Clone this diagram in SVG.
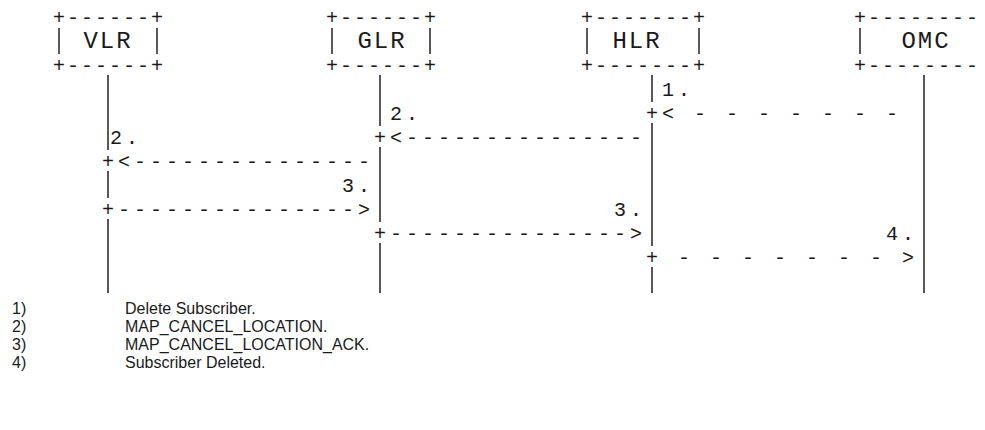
<svg xmlns="http://www.w3.org/2000/svg" width="985" height="430" viewBox="0 0 985 430">
<style>
  text { fill: #1a1a1a; white-space: pre; }
  .m { font-family: "Liberation Mono", "Courier New", monospace; font-size: 20px; letter-spacing: 4px; }
  .b { font-family: "Liberation Mono", "Courier New", monospace; font-size: 20px; letter-spacing: 2px; }
  .lbl { font-family: "Liberation Mono", "Courier New", monospace; font-size: 24px; letter-spacing: 2px; text-anchor: middle; }
  .leg { font-family: "Liberation Sans", Arial, sans-serif; font-size: 16px; }
  .ln { stroke: #000; stroke-width: 1.3; fill: none; }
</style>
<rect width="985" height="430" fill="#fff"/>

<g id="node-vlr">
  <text class="b" x="53" y="24">+------+</text>
  <line class="ln" x1="59" y1="28" x2="59" y2="54"/>
  <line class="ln" x1="157" y1="28" x2="157" y2="54"/>
  <text class="lbl" x="108" y="48">VLR</text>
  <text class="b" x="53" y="72">+------+</text>
</g>
<g id="node-glr">
  <text class="b" x="326" y="24">+------+</text>
  <line class="ln" x1="332" y1="28" x2="332" y2="54"/>
  <line class="ln" x1="430" y1="28" x2="430" y2="54"/>
  <text class="lbl" x="382" y="48">GLR</text>
  <text class="b" x="326" y="72">+------+</text>
</g>
<g id="node-hlr">
  <text class="b" x="581" y="24">+-------+</text>
  <line class="ln" x1="587" y1="28" x2="587" y2="54"/>
  <line class="ln" x1="699" y1="28" x2="699" y2="54"/>
  <text class="lbl" x="637" y="48">HLR</text>
  <text class="b" x="581" y="72">+-------+</text>
</g>
<g id="node-omc">
  <text class="b" x="854" y="24">+--------</text>
  <line class="ln" x1="860" y1="28" x2="860" y2="54"/>
  <text class="lbl" x="926" y="48">OMC</text>
  <text class="b" x="854" y="72">+--------</text>
</g>

<g id="connectors">
  <path class="ln" d="M108 75V150M108 171V198M108 219V293"/>
  <path class="ln" d="M380 75V126M380 147V222M380 243V293"/>
  <path class="ln" d="M652 75V102M652 123V246M652 267V293"/>
  <path class="ln" d="M924 75V293"/>
  <text class="m" x="662" y="96">1.</text>
  <text class="m" x="390" y="120">2.</text>
  <text class="m" x="646" y="120">+&lt; - - - - - - -</text>
  <text class="m" x="110" y="144">2.</text>
  <text class="m" x="374" y="144">+&lt;---------------</text>
  <text class="m" x="102" y="168">+&lt;---------------</text>
  <text class="m" x="342" y="192">3.</text>
  <text class="m" x="102" y="216">+---------------&gt;</text>
  <text class="m" x="614" y="216">3.</text>
  <text class="m" x="374" y="240">+---------------&gt;</text>
  <text class="m" x="886" y="240">4.</text>
  <text class="m" x="646" y="264">+ - - - - - - - &gt;</text>
</g>

<g id="legend">
  <text class="leg" x="12" y="314">1)</text>
  <text class="leg" x="125" y="314">Delete Subscriber.</text>
  <text class="leg" x="12" y="332">2)</text>
  <text class="leg" x="125" y="332">MAP_CANCEL_LOCATION.</text>
  <text class="leg" x="12" y="350">3)</text>
  <text class="leg" x="125" y="350">MAP_CANCEL_LOCATION_ACK.</text>
  <text class="leg" x="12" y="368">4)</text>
  <text class="leg" x="125" y="368">Subscriber Deleted.</text>
</g>
</svg>
